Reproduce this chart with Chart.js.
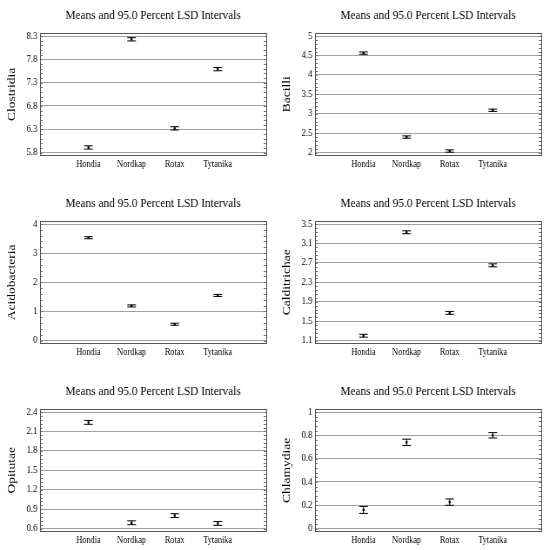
<!DOCTYPE html>
<html><head><meta charset="utf-8">
<script src="https://cdn.jsdelivr.net/npm/chart.js@4.4.0/dist/chart.umd.min.js"></script>
<style>
html,body{margin:0;padding:0;background:#fff;width:550px;height:550px;overflow:hidden;}
.panel{position:absolute;width:316px;height:174px;transform:scaleX(0.87);transform-origin:0 0;}
</style></head><body>
<div class="panel" style="left:0px;top:0px"><canvas id="c0"></canvas></div>
<div class="panel" style="left:275px;top:0px"><canvas id="c1"></canvas></div>
<div class="panel" style="left:0px;top:188px"><canvas id="c2"></canvas></div>
<div class="panel" style="left:275px;top:188px"><canvas id="c3"></canvas></div>
<div class="panel" style="left:0px;top:376px"><canvas id="c4"></canvas></div>
<div class="panel" style="left:275px;top:376px"><canvas id="c5"></canvas></div>
<script>
const FONT = '"Liberation Serif", "Times New Roman", serif';
const titleText = 'Means and 95.0 Percent LSD Intervals';
const groups = ['Hondia', 'Nordkap', 'Rotax', 'Tytanika'];
const groupPositions = [1, 2, 3, 4];
const xRange = [0, 5];

const clostridiaMeans = [5.91, 8.23, 6.32, 7.59];
const clostridiaLSD = [0.035, 0.035, 0.035, 0.035];
const clostridiaTicks = [5.8, 6.3, 6.8, 7.3, 7.8, 8.3];

const bacilliMeans = [4.56, 2.40, 2.04, 3.09];
const bacilliLSD = [0.03, 0.03, 0.03, 0.03];
const bacilliTicks = [2, 2.5, 3, 3.5, 4, 4.5, 5];

const acidobacteriaMeans = [3.53, 1.19, 0.56, 1.55];
const acidobacteriaLSD = [0.035, 0.035, 0.035, 0.035];
const acidobacteriaTicks = [0, 1, 2, 3, 4];

const calditrichaeMeans = [1.20, 3.33, 1.67, 2.65];
const calditrichaeLSD = [0.03, 0.03, 0.03, 0.03];
const calditrichaeTicks = [1.1, 1.5, 1.9, 2.3, 2.7, 3.1, 3.5];

const opitutaeMeans = [2.24, 0.69, 0.80, 0.68];
const opitutaeLSD = [0.03, 0.03, 0.03, 0.03];
const opitutaeTicks = [0.6, 0.9, 1.2, 1.5, 1.8, 2.1, 2.4];

const chlamydiaeMeans = [0.16, 0.74, 0.227, 0.80];
const chlamydiaeLSD = [0.03, 0.027, 0.027, 0.023];
const chlamydiaeTicks = [0, 0.2, 0.4, 0.6, 0.8, 1];

const framePlugin = {
  id: 'frame',
  afterLayout(chart) {
    const tb = chart.titleBlock;
    if (tb) {
      tb.left = chart.chartArea.left;
      tb.right = chart.chartArea.right;
    }
  },
  beforeDatasetsDraw(chart) {
    const { ctx, chartArea: a, scales: { y } } = chart;
    const t = chart.options.plugins.frame.ticks;
    const minor = (t[1] - t[0]) / 5;
    ctx.save();
    ctx.strokeStyle = '#777';
    ctx.lineWidth = 1;
    ctx.beginPath();
    const n = (t.length - 1) * 5;
    for (let k = 0; k <= n; k++) {
      const py = Math.round(y.getPixelForValue(t[0] + k * minor)) + 0.5;
      ctx.moveTo(a.left, py); ctx.lineTo(a.left + 3, py);
      ctx.moveTo(a.right, py); ctx.lineTo(a.right - 3, py);
    }
    ctx.stroke();
    ctx.strokeStyle = '#555';
    ctx.strokeRect(Math.round(a.left) + 0.5, Math.round(a.top) + 0.5, Math.round(a.right - a.left), Math.round(a.bottom - a.top));
    ctx.restore();
  },
  afterDatasetsDraw(chart) {
    const { ctx, scales: { x, y } } = chart;
    ctx.save();
    ctx.strokeStyle = '#000';
    ctx.lineWidth = 1;
    chart.data.datasets.forEach(ds => {
      ds.data.forEach((p, i) => {
        const px = x.getPixelForValue(p.x);
        const top = y.getPixelForValue(p.y + ds.lsd[i]);
        const bot = y.getPixelForValue(p.y - ds.lsd[i]);
        ctx.beginPath();
        ctx.moveTo(px, top); ctx.lineTo(px, bot);
        ctx.moveTo(px - 5, top); ctx.lineTo(px + 5, top);
        ctx.moveTo(px - 5, bot); ctx.lineTo(px + 5, bot);
        ctx.stroke();
      });
    });
    ctx.restore();
  }
};

function makeChart(id, yLabel, means, lsd, ticks) {
  const lo = ticks[0], hi = ticks[ticks.length - 1];
  const pad = (hi - lo) * 0.025;
  const xpad = (xRange[1] - xRange[0]) * 0.025;
  new Chart(document.getElementById(id), {
    type: 'scatter',
    data: {
      datasets: [{
        data: groupPositions.map((x, i) => ({ x: x, y: means[i] })),
        lsd: lsd,
        pointStyle: 'rect',
        pointRadius: 1.6,
        backgroundColor: '#000',
        borderColor: '#000',
        borderWidth: 0
      }]
    },
    options: {
      responsive: true,
      maintainAspectRatio: false,
      animation: false,
      events: [],
      layout: { padding: { left: 0, right: 10, top: 0, bottom: 0 } },
      plugins: {
        legend: { display: false },
        tooltip: { enabled: false },
        frame: { ticks: ticks },
        title: {
          display: true, text: titleText, color: '#000',
          font: { family: FONT, size: 13, weight: 'normal' },
          padding: { top: 7.5, bottom: 10 }
        }
      },
      scales: {
        x: {
          type: 'linear',
          min: xRange[0] - xpad, max: xRange[1] + xpad,
          afterBuildTicks: s => { s.ticks = groupPositions.map(v => ({ value: v })); },
          ticks: {
            callback: (v, i) => groups[i],
            color: '#000', font: { family: FONT, size: 9.5 }, padding: 3,
            maxRotation: 0, autoSkip: false
          },
          grid: { display: false, drawTicks: false },
          border: { display: false },
          afterFit: s => { s.height = 174 - 155.5; }
        },
        y: {
          min: lo - pad, max: hi + pad,
          afterBuildTicks: s => { s.ticks = ticks.map(v => ({ value: v })); },
          ticks: {
            callback: v => String(v),
            color: '#000', font: { family: FONT, size: 10 }, padding: 3
          },
          grid: { color: '#a0a0a0', lineWidth: 1, drawTicks: false },
          border: { display: false },
          title: {
            display: true, text: yLabel, color: '#000',
            font: { family: FONT, size: 13.5 }, padding: { top: 5, bottom: 0 }
          },
          afterFit: s => { s.width = 46; }
        }
      }
    },
    plugins: [framePlugin]
  });
}

makeChart('c0', 'Clostridia', clostridiaMeans, clostridiaLSD, clostridiaTicks);
makeChart('c1', 'Bacilli', bacilliMeans, bacilliLSD, bacilliTicks);
makeChart('c2', 'Acidobacteria', acidobacteriaMeans, acidobacteriaLSD, acidobacteriaTicks);
makeChart('c3', 'Calditrichae', calditrichaeMeans, calditrichaeLSD, calditrichaeTicks);
makeChart('c4', 'Opitutae', opitutaeMeans, opitutaeLSD, opitutaeTicks);
makeChart('c5', 'Chlamydiae', chlamydiaeMeans, chlamydiaeLSD, chlamydiaeTicks);
</script>
</body></html>
